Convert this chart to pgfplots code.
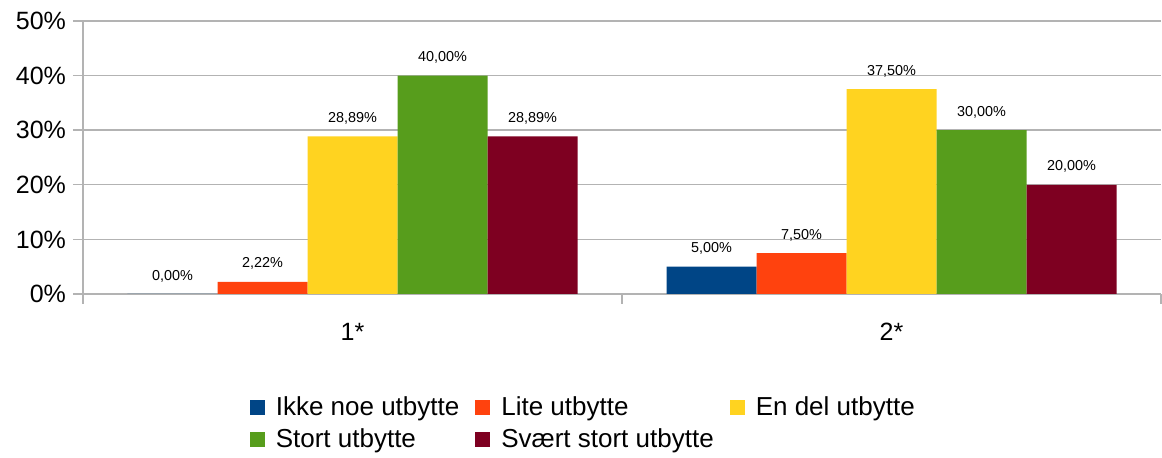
\documentclass[border=0pt]{standalone}
\usepackage{pgfplots}
\pgfplotsset{compat=1.18}
\usepackage{fontspec}
\setmainfont{Liberation Sans}
\definecolor{c1}{HTML}{004586}
\definecolor{c2}{HTML}{FF420E}
\definecolor{c3}{HTML}{FFD320}
\definecolor{c4}{HTML}{579D1C}
\definecolor{c5}{HTML}{7E0021}
\definecolor{gridc}{HTML}{B3B3B3}
\pgfplotsset{
  sq/.style={fill=#1, draw=none,
    legend image code/.code={\fill[#1] (0pt,-3.75pt) rectangle (7.5pt,3.75pt);}}
}

\begin{document}
\begin{tikzpicture}
\begin{axis}[
    scale only axis,
    width=539pt, height=136.5pt,
    xmin=-0.5, xmax=1.5, ymin=0, ymax=50,
    ybar=0pt, bar width=45pt,
    axis x line*=bottom, axis y line*=left,
    axis line style={gridc, line width=0.7pt, -},
    ymajorgrids, grid style={gridc, line width=0.7pt},
    tick align=outside,
    major tick length=5pt, minor tick length=5pt,
    tick style={gridc, line width=0.7pt},
    xtick={0,1}, xticklabels={1*,2*},
    major x tick style={draw=none},
    minor xtick={-0.5,0.5,1.5},
    ytick={0,10,20,30,40,50},
    yticklabels={0\%,10\%,20\%,30\%,40\%,50\%},
    ticklabel style={font=\fontsize{12.5}{14}\selectfont, black},
    xticklabel style={yshift=-6pt},
    /pgf/number format/assume math mode=true,
    nodes near coords={\pgfmathprintnumber[fixed,fixed zerofill,precision=2,use comma]{\pgfplotspointmeta}\%},
    nodes near coords style={font=\fontsize{7.2}{8}\selectfont, black, yshift=2.5pt},
    legend style={at={(axis description cs:0.465,0)}, anchor=north, yshift=-47pt,
        draw=none, legend columns=3, font=\fontsize{13}{15}\selectfont,
        legend cell align=left, row sep=1pt,
        /tikz/every odd column/.append style={column sep=3.5pt},
        /tikz/every even column/.append style={column sep=6pt}},
    clip=false,
]
\addplot[sq=c1] coordinates {(0,0) (1,5.00)};
\addplot[sq=c2] coordinates {(0,2.22) (1,7.50)};
\addplot[sq=c3] coordinates {(0,28.89) (1,37.50)};
\addplot[sq=c4] coordinates {(0,40.00) (1,30.00)};
\addplot[sq=c5] coordinates {(0,28.89) (1,20.00)};
\legend{Ikke noe utbytte, Lite utbytte, En del utbytte, Stort utbytte, Svært stort utbytte}
\end{axis}
\pgfresetboundingbox
\path[use as bounding box] (-41.5pt,-82pt) rectangle (539.5pt,147pt);
\end{tikzpicture}
\end{document}
